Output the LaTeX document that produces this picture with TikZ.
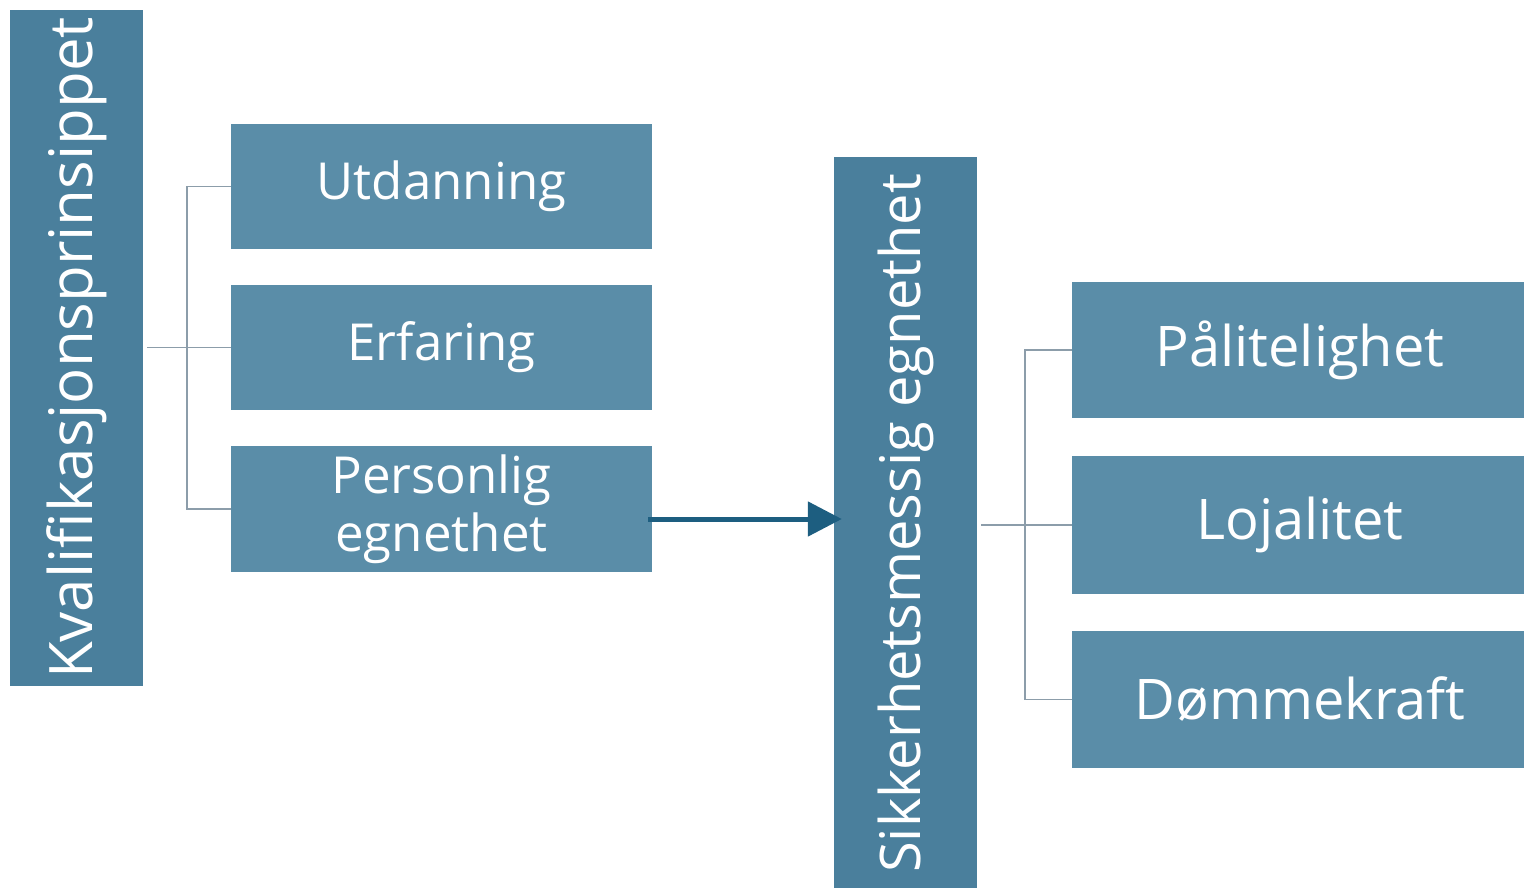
\documentclass[tikz,border=0pt]{standalone}
\usepackage{fontspec}
\setmainfont{Open Sans}
\usetikzlibrary{arrows.meta}
\definecolor{tallblue}{HTML}{4A7F9C}
\definecolor{boxblue}{HTML}{5A8DA8}
\definecolor{arrowblue}{HTML}{1D5E80}
\definecolor{linkgray}{HTML}{8C9DAA}
\begin{document}
\begin{tikzpicture}[x=1pt,y=-1pt,
  tallbox/.style={fill=tallblue, text=white, rotate=90, inner sep=0pt, font=\fontsize{56}{60}\selectfont},
  subbox/.style={fill=boxblue, text=white, inner sep=0pt, align=center, font=\fontsize{51}{58}\selectfont},
  bigbox/.style={subbox, font=\fontsize{56}{62}\selectfont},
  link/.style={draw=linkgray, line width=1.5pt},
  flow/.style={draw=arrowblue, line width=5pt, -{Triangle[length=34pt,width=34pt]}}]
\useasboundingbox (0,0) rectangle (1524,888);
\node[tallbox, minimum width=676pt, minimum height=133pt, font=\fontsize{60}{64}\selectfont] (kval) at (76.5,348) {Kvalifikasjonsprinsippet};
\node[subbox, minimum width=421pt, minimum height=125pt] (utd) at (441.5,186.5) {Utdanning};
\node[subbox, minimum width=421pt, minimum height=125pt] (erf) at (441.5,347.5) {Erfaring};
\node[subbox, minimum width=421pt, minimum height=126pt] (pers) at (441.5,509) {Personlig\\egnethet};
\node[tallbox, minimum width=733pt, minimum height=143pt] (sikk) at (905.5,523.5) {Sikkerhetsmessig egnethet};
\node[bigbox, minimum width=456pt, minimum height=136pt] (pal) at (1300,350) {Pålitelighet};
\node[bigbox, minimum width=456pt, minimum height=138pt] (loj) at (1300,525) {Lojalitet};
\node[bigbox, minimum width=456pt, minimum height=137pt] (dom) at (1300,699.5) {Dømmekraft};
% left tree
\draw[link] (utd.west) -- ++(-44,0) |- (pers.west);
\draw[link, shorten >=4pt] (erf.west) -- (erf.west -| kval.south);
% right tree
\draw[link] (pal.west) -- ++(-47,0) |- (dom.west);
\draw[link, shorten >=4pt] (loj.west) -- (loj.west -| sikk.south);
\coordinate (pa) at ([xshift=-4pt,yshift=-10pt]pers.east);
\draw[flow] (pa) -- ([xshift=8pt]pa -| sikk.north);
\end{tikzpicture}
\end{document}
